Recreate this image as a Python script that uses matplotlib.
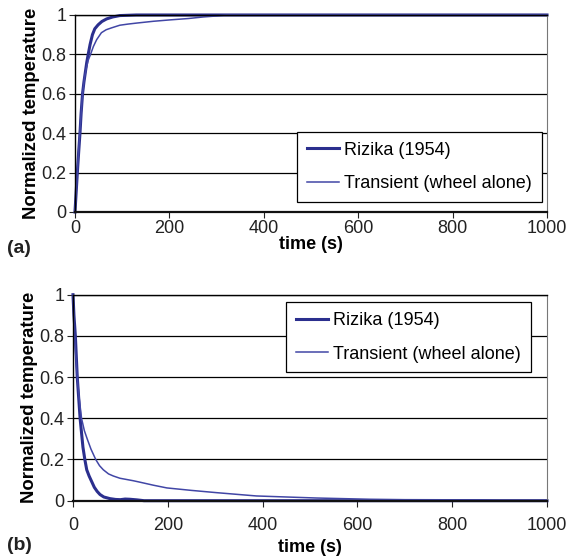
import matplotlib
matplotlib.use("Agg")
import matplotlib.pyplot as plt

# --- (a) heating: normalized temperature vs time ---
t_riz_a = [0, 3, 5, 8, 10.6, 13, 16, 19, 22, 25, 28, 32, 37, 42, 49, 57, 67, 80, 95, 130, 1000]
v_riz_a = [0, 0.12, 0.2, 0.31, 0.4, 0.5, 0.6, 0.66, 0.71, 0.76, 0.8, 0.85, 0.9, 0.93, 0.95,
           0.967, 0.98, 0.99, 0.997, 1.0, 1.0]

t_tr_a = [0, 3, 5, 8, 10, 13, 16, 20, 24, 28, 33, 39, 46, 56, 66, 78, 95, 113, 131, 166,
          201, 240, 272, 300, 320, 1000]
v_tr_a = [0, 0.12, 0.21, 0.32, 0.4, 0.5, 0.6, 0.68, 0.73, 0.77, 0.8, 0.84, 0.875, 0.91, 0.925,
          0.935, 0.948, 0.954, 0.959, 0.968, 0.975, 0.982, 0.99, 0.995, 1.0, 1.0]

# --- (b) cooling ---
t_riz_b = [0, 2, 5, 7, 9, 12, 15, 18, 21, 25, 29, 34, 39, 45, 51, 57, 65, 78, 90, 100,
           110, 120, 135, 150, 1000]
v_riz_b = [1, 0.9, 0.8, 0.7, 0.6, 0.5, 0.4, 0.33, 0.26, 0.2, 0.15, 0.12, 0.095, 0.065, 0.045,
           0.03, 0.018, 0.01, 0.006, 0.005, 0.008, 0.007, 0.004, 0.0, 0.0]

t_tr_b = [0, 2, 3.5, 6, 9, 13, 18, 24, 30, 38, 48, 56, 64, 75, 85, 99, 127, 141, 170, 198,
          250, 303, 350, 387, 450, 514, 570, 626, 700, 860, 900, 1000]
v_tr_b = [1, 0.88, 0.8, 0.7, 0.6, 0.5, 0.4, 0.34, 0.3, 0.25, 0.2, 0.17, 0.15, 0.13, 0.12,
          0.109, 0.097, 0.09, 0.075, 0.062, 0.05, 0.039, 0.03, 0.023, 0.018, 0.013, 0.01,
          0.007, 0.005, 0.004, 0.0, 0.0]

x_ticks = [0, 200, 400, 600, 800, 1000]
y_ticks = [0, 0.2, 0.4, 0.6, 0.8, 1]
y_labels = ["0", "0.2", "0.4", "0.6", "0.8", "1"]

RIZ_COLOR = "#2b2f8e"
TR_COLOR = "#4146a6"

plt.rcParams["font.family"] = ["Liberation Sans", "DejaVu Sans"]

fig = plt.figure(figsize=(5.68, 5.59), dpi=100)
ax_a = fig.add_axes([0.132, 0.6208, 0.831, 0.3524])
ax_b = fig.add_axes([0.1285, 0.1043, 0.8345, 0.3685])


def style_axes(ax, xpad, xlabelpad):
    ax.set_xlim(0, 1000)
    ax.set_ylim(0, 1)
    ax.set_xticks(x_ticks)
    ax.set_yticks(y_ticks)
    ax.set_yticklabels(y_labels)
    ax.tick_params(axis="both", direction="out", length=4, width=0.8,
                   labelsize=13, colors="#222222", pad=2)
    ax.tick_params(axis="x", pad=xpad)
    ax.grid(axis="y", color="black", linewidth=0.9)
    ax.set_axisbelow(True)
    ax.spines["left"].set_color("black")
    ax.spines["left"].set_linewidth(1.0)
    ax.spines["bottom"].set_color("#111111")
    ax.spines["bottom"].set_linewidth(1.6)
    ax.spines["top"].set_color("black")
    ax.spines["top"].set_linewidth(1.0)
    ax.spines["right"].set_color("#777777")
    ax.spines["right"].set_linewidth(0.8)
    ax.set_xlabel("time (s)", fontsize=13, fontweight="bold", labelpad=xlabelpad)
    ax.set_ylabel("Normalized temperature", fontsize=13.3, fontweight="bold", labelpad=1)


for ax, tr, vr, tt, vt in [(ax_a, t_riz_a, v_riz_a, t_tr_a, v_tr_a),
                           (ax_b, t_riz_b, v_riz_b, t_tr_b, v_tr_b)]:
    ax.plot(tr, vr, color=RIZ_COLOR, linewidth=2.2, label="Rizika (1954)", clip_on=False)
    ax.plot(tt, vt, color=TR_COLOR, linewidth=1.1, label="Transient (wheel alone)", clip_on=False)

style_axes(ax_a, xpad=2, xlabelpad=-1)
style_axes(ax_b, xpad=8, xlabelpad=3)

leg_kw = dict(fontsize=13, frameon=True, fancybox=False, edgecolor="black",
              framealpha=1, handlelength=1.75, handletextpad=0.3,
              labelspacing=0.9, borderpad=0.55, borderaxespad=0)

leg_a = ax_a.legend(loc="lower right", bbox_to_anchor=(0.989, 0.051), **leg_kw)
leg_a.get_frame().set_linewidth(0.9)
leg_b = ax_b.legend(loc="upper right", bbox_to_anchor=(0.966, 0.963), **leg_kw)
leg_b.get_frame().set_linewidth(0.9)

fig.text(0.012, 0.556, "(a)", fontsize=14, fontweight="bold", va="center", color="#222222")
fig.text(0.012, 0.024, "(b)", fontsize=14, fontweight="bold", va="center", color="#222222")

fig.savefig("out.png", dpi=100)
